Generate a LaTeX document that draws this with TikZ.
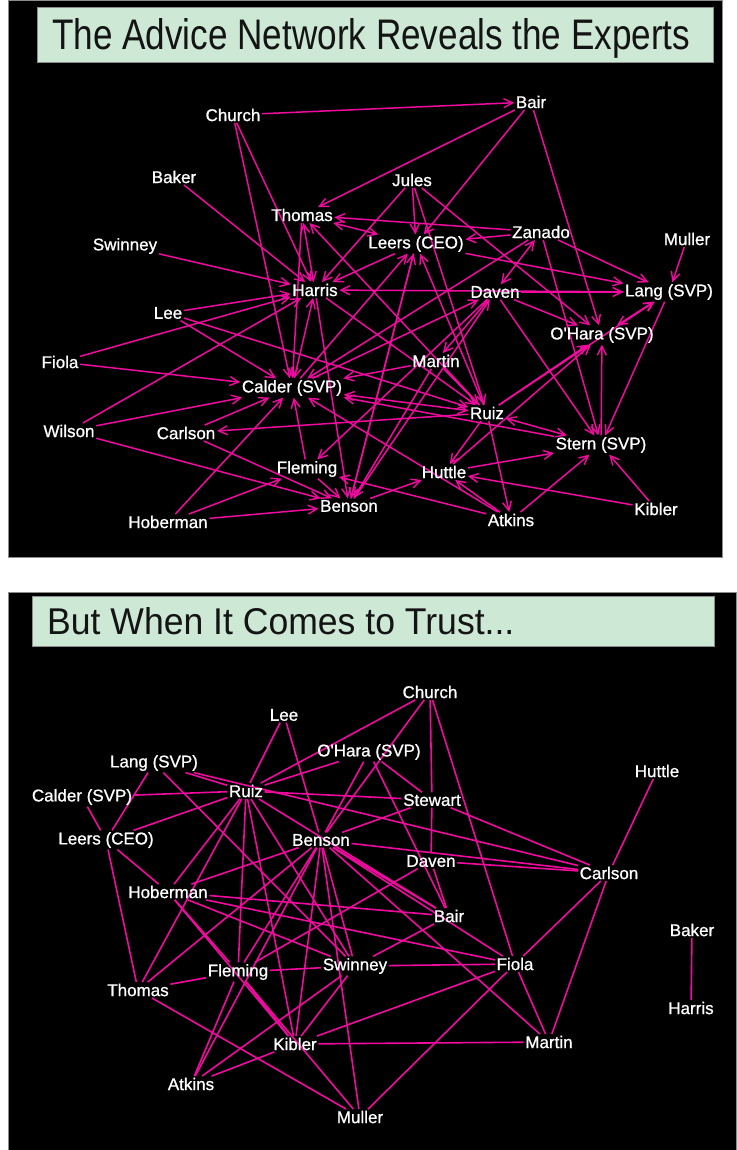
\documentclass[tikz,border=0pt]{standalone}
\usepackage{fontspec}
\setmainfont{Liberation Sans}
\newfontfamily\whofont{Liberation Sans}[FakeBold=0.9]
\usetikzlibrary{arrows.meta}
\definecolor{linkpink}{RGB}{240,10,160}
\definecolor{titlegreen}{RGB}{205,232,213}
\definecolor{edgegray}{RGB}{140,140,140}
\pgfdeclarelayer{panel}
\pgfdeclarelayer{links}
\pgfsetlayers{panel,links,main}

\begin{document}
\begin{tikzpicture}[x=1pt,y=-1pt,
  who/.style={text=white,font=\whofont\fontsize{17}{18}\selectfont,inner sep=1.5pt},
  barb/.tip={Straight Barb[length=9pt,width=9pt,line width=1.4pt]},
  adv/.style={draw=linkpink,line width=1.5pt,-barb},
  advboth/.style={draw=linkpink,line width=1.5pt,barb-barb},
  trust/.style={draw=linkpink,line width=1.6pt},
  panelbox/.style={fill=black,draw=edgegray,line width=0.8pt},
  titlebox/.style={fill=titlegreen,draw=edgegray,line width=0.6pt}]

\useasboundingbox (0,0) rectangle (736,1150);

\begin{pgfonlayer}{panel}
  \fill[white] (0,0) rectangle (736,1150);
  \draw[panelbox] (8,0) rectangle (722,557);
  \draw[panelbox] (8,592) rectangle (736,1150);
  \draw[titlebox] (37,7) rectangle (713,62);
  \draw[titlebox] (32,596) rectangle (714,646);
\end{pgfonlayer}

% headings
\node[anchor=base west,inner sep=0,text={rgb,255:red,20;green,20;blue,20}] (ttitle) at (52,50)
  {\resizebox{638pt}{31pt}{The Advice Network Reveals the Experts}};
\node[anchor=base west,inner sep=0,text={rgb,255:red,20;green,20;blue,20}] (btitle) at (47,634)
  {\resizebox{467pt}{27pt}{But When It Comes to Trust...}};

% ---------- advice network ----------
\node[who] (tChurch)   at (233,115) {Church};
\node[who] (tBair)     at (531,102) {Bair};
\node[who] (tBaker)    at (174,177) {Baker};
\node[who] (tJules)    at (412,180) {Jules};
\node[who] (tThomas)   at (302,215) {Thomas};
\node[who] (tZanado)   at (541,232) {Zanado};
\node[who] (tMuller)   at (687,239) {Muller};
\node[who] (tLeers)    at (416,244) {Leers (CEO)};
\node[who] (tSwinney)  at (125,246) {Swinney};
\node[who] (tHarris)   at (315,290) {Harris};
\node[who] (tDaven)    at (495,292) {Daven};
\node[who] (tLang)     at (669,292) {Lang (SVP)};
\node[who] (tLee)      at (168,313) {Lee};
\node[who] (tOHara)    at (602,335) {O'Hara (SVP)};
\node[who] (tFiola)    at (60,362)  {Fiola};
\node[who] (tMartin)   at (436,361) {Martin};
\node[who] (tCalder)   at (292,388) {Calder (SVP)};
\node[who] (tRuiz)     at (487,413) {Ruiz};
\node[who] (tWilson)   at (69,431)  {Wilson};
\node[who] (tCarlson)  at (186,433) {Carlson};
\node[who] (tStern)    at (601,445) {Stern (SVP)};
\node[who] (tFleming)  at (307,469) {Fleming};
\node[who] (tHuttle)   at (444,472) {Huttle};
\node[who] (tBenson)   at (349,506) {Benson};
\node[who] (tHoberman) at (168,522) {Hoberman};
\node[who] (tAtkins)   at (511,520) {Atkins};
\node[who] (tKibler)   at (656,509) {Kibler};

\begin{pgfonlayer}{links}
\foreach \a/\b in {Church/Bair, Church/Harris, Church/Calder,
  Bair/Thomas, Bair/Leers, Bair/OHara,
  Baker/Harris, Swinney/Harris,
  Jules/Leers, Jules/Harris, Jules/Ruiz, Jules/OHara,
  Zanado/Thomas, Zanado/Leers, Zanado/Lang, Zanado/Stern, Zanado/Calder,
  Muller/Lang, Lang/Stern, Ruiz/Lang, Lang/Harris, Daven/Lang, Leers/Lang,
  Daven/OHara, Ruiz/OHara, Huttle/OHara, Stern/OHara,
  Huttle/Stern, Atkins/Stern, Kibler/Stern, Daven/Stern,
  Kibler/Huttle, Atkins/Huttle, Ruiz/Atkins, Benson/Huttle, Ruiz/Huttle,
  Daven/Martin, Martin/Ruiz, Martin/Benson, Martin/Calder,
  Ruiz/Carlson, Carlson/Calder, Carlson/Benson,
  Wilson/Benson, Wilson/Calder, Wilson/Harris,
  Fiola/Calder, Fiola/Harris,
  Lee/Calder, Lee/Harris, Lee/Ruiz,
  Hoberman/Calder, Hoberman/Fleming, Hoberman/Benson,
  Fleming/Calder, Fleming/Benson, Daven/Fleming, Atkins/Fleming, Atkins/Calder,
  Benson/Daven, Benson/Leers, Leers/Harris,
  Calder/Leers, Ruiz/Leers, Thomas/Calder,
  Harris/Ruiz, Ruiz/Thomas, Stern/Calder,
  Harris/Benson, Leers/Benson, Calder/Daven}
  \draw[adv] (t\a) -- (t\b);
\foreach \a/\b in {Lang/OHara, Ruiz/Stern, Thomas/Harris, Leers/Thomas,
  Calder/Harris, Calder/Ruiz, Zanado/Daven}
  \draw[advboth] (t\a) -- (t\b);
\end{pgfonlayer}

% ---------- trust network ----------
\node[who] (bChurch)   at (430,692)  {Church};
\node[who] (bLee)      at (284,715)  {Lee};
\node[who] (bOHara)    at (369,752)  {O'Hara (SVP)};
\node[who] (bLang)     at (154,763)  {Lang (SVP)};
\node[who] (bHuttle)   at (657,771)  {Huttle};
\node[who] (bCalder)   at (82,797)   {Calder (SVP)};
\node[who] (bRuiz)     at (246,791)  {Ruiz};
\node[who] (bStewart)  at (432,800)  {Stewart};
\node[who] (bLeers)    at (106,840)  {Leers (CEO)};
\node[who] (bBenson)   at (321,840)  {Benson};
\node[who] (bDaven)    at (431,861)  {Daven};
\node[who] (bCarlson)  at (609,873)  {Carlson};
\node[who] (bHoberman) at (168,892)  {Hoberman};
\node[who] (bBair)     at (449,916)  {Bair};
\node[who] (bBaker)    at (692,930)  {Baker};
\node[who] (bSwinney)  at (355,966)  {Swinney};
\node[who] (bFiola)    at (515,964)  {Fiola};
\node[who] (bFleming)  at (238,972)  {Fleming};
\node[who] (bThomas)   at (138,990)  {Thomas};
\node[who] (bHarris)   at (691,1008) {Harris};
\node[who] (bKibler)   at (295,1044) {Kibler};
\node[who] (bMartin)   at (549,1042) {Martin};
\node[who] (bAtkins)   at (191,1084) {Atkins};
\node[who] (bMuller)   at (360,1117) {Muller};

\begin{pgfonlayer}{links}
\foreach \a/\b in {Church/Ruiz, Church/Benson, Church/Stewart, Church/Fiola,
  Lee/Ruiz, Lee/Benson,
  OHara/Ruiz, OHara/Benson, OHara/Stewart, OHara/Bair,
  Lang/Leers, Lang/Ruiz, Lang/Swinney, Lang/Carlson,
  Calder/Ruiz, Calder/Leers,
  Leers/Thomas, Leers/Ruiz, Leers/Hoberman,
  Ruiz/Hoberman, Ruiz/Fleming, Ruiz/Kibler, Ruiz/Swinney, Ruiz/Stewart, Ruiz/Bair, Ruiz/Thomas,
  Thomas/Fleming, Thomas/Benson, Thomas/Muller,
  Fleming/Muller, Fleming/Kibler, Fleming/Swinney, Fleming/Benson, Fleming/Daven, Fleming/Atkins,
  Hoberman/Fleming, Hoberman/Bair, Hoberman/Fiola, Hoberman/Benson, Hoberman/Kibler,
  Benson/Swinney, Benson/Kibler, Benson/Muller, Benson/Martin, Benson/Bair,
  Benson/Stewart, Benson/Carlson, Benson/Atkins, Benson/Fiola,
  Stewart/Carlson, Stewart/Daven,
  Daven/Carlson, Daven/Bair,
  Bair/Swinney,
  Swinney/Fiola, Swinney/Kibler, Swinney/Atkins, Swinney/Hoberman,
  Fiola/Carlson, Fiola/Muller, Fiola/Martin, Fiola/Kibler,
  Carlson/Martin, Huttle/Carlson,
  Kibler/Atkins, Kibler/Martin,
  Baker/Harris}
  \draw[trust] (b\a) -- (b\b);
\end{pgfonlayer}
\end{tikzpicture}
\end{document}
